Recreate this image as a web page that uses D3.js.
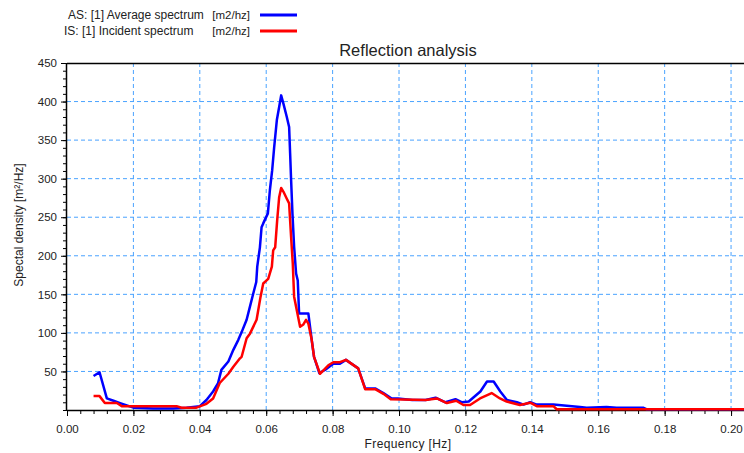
<!DOCTYPE html>
<html>
<head>
<meta charset="utf-8">
<script src="https://cdn.jsdelivr.net/npm/d3@7"></script>
<style>
  body { margin: 0; background: #fff; }
  svg { font-family: "Liberation Sans", Arial, sans-serif; }
</style>
</head>
<body>
<div id="chart"></div>
<script>
// AS: average spectrum
var asFreq = [0.0080, 0.0098, 0.0120, 0.0140, 0.0160, 0.0180, 0.0200, 0.0260, 0.0320, 0.0360, 0.0400,
  0.0420, 0.0440, 0.0455, 0.0465, 0.0486, 0.0501, 0.0516, 0.0526, 0.0541, 0.0551, 0.0561, 0.0570,
  0.0573, 0.0581, 0.0586, 0.0591, 0.0605, 0.0611, 0.0618, 0.0624, 0.0632, 0.0639, 0.0645, 0.0652,
  0.0662, 0.0669, 0.0672, 0.0675, 0.0679, 0.0684, 0.0690, 0.0695, 0.0699, 0.0727, 0.0737, 0.0744,
  0.0760, 0.0777, 0.0802, 0.0822, 0.0840, 0.0877, 0.0898, 0.0928, 0.0953, 0.0978, 0.0997, 0.1040,
  0.1080, 0.1110, 0.1140, 0.1170, 0.1190, 0.1210, 0.1245, 0.1265, 0.1285, 0.1305, 0.1325, 0.1355,
  0.1375, 0.1395, 0.1415, 0.1465, 0.1545, 0.1565, 0.1625, 0.1655, 0.1735, 0.1745, 0.2040];
var asValues = [44, 49, 15, 12, 9, 6, 3, 2, 2, 3, 5,
  13, 24, 35, 52, 63, 78, 91, 101, 117, 134, 151, 166,
  186, 211, 237, 242, 255, 285, 311, 341, 376, 393, 408, 397,
  380, 367, 333, 298, 255, 212, 177, 168, 125, 125, 91, 69,
  48, 52, 60, 60, 65, 54, 28, 28, 22, 15, 15, 13,
  13, 16, 10, 14, 10, 11, 24, 37, 37, 24, 13, 10,
  7, 10, 7, 7, 4, 3, 4, 3, 3, 1, 1];

// IS: incident spectrum
var isFreq = [0.0080, 0.0098, 0.0114, 0.0150, 0.0165, 0.0330, 0.0345, 0.0390, 0.0420, 0.0440, 0.0460,
  0.0486, 0.0501, 0.0521, 0.0526, 0.0541, 0.0551, 0.0571, 0.0583, 0.0591, 0.0606, 0.0617, 0.0621,
  0.0627, 0.0633, 0.0639, 0.0645, 0.0652, 0.0662, 0.0669, 0.0672, 0.0675, 0.0680, 0.0684, 0.0702,
  0.0712, 0.0720, 0.0727, 0.0737, 0.0744, 0.0762, 0.0787, 0.0802, 0.0822, 0.0840, 0.0877, 0.0898,
  0.0928, 0.0953, 0.0975, 0.1080, 0.1114, 0.1144, 0.1172, 0.1194, 0.1214, 0.1244, 0.1279, 0.1304,
  0.1324, 0.1364, 0.1395, 0.1415, 0.1465, 0.1475, 0.2040];
var isValues = [18, 18, 9, 9, 5, 5, 3, 3, 8, 15, 35,
  47, 56, 67, 69, 93, 99, 117, 147, 164, 170, 186, 207,
  211, 246, 276, 288, 283, 274, 268, 246, 224, 190, 147, 108,
  111, 117, 112, 91, 69, 47, 58, 62, 62, 65, 54, 27,
  27, 21, 14, 13, 15, 9, 12, 6.5, 6.5, 15, 22, 15,
  11, 6.5, 9.5, 5, 5, 1, 1];

var xTicks = [0, 0.02, 0.04, 0.06, 0.08, 0.10, 0.12, 0.14, 0.16, 0.18, 0.20];
var yTicks = [50, 100, 150, 200, 250, 300, 350, 400, 450];

var legendLabels = ['AS: [1] Average spectrum', 'IS: [1] Incident spectrum'];
var legendUnits = ['[m2/hz]', '[m2/hz]'];
var colors = ['#0000ff', '#ff0000'];

var W = 744, H = 453;
var margin = {top: 63, right: 0, bottom: 43, left: 67};
var width = W - margin.left - margin.right,
    height = H - margin.top - margin.bottom;

var svg = d3.select('#chart').append('svg')
  .attr('width', W)
  .attr('height', H);

var g = svg.append('g')
  .attr('transform', 'translate(' + margin.left + ',' + margin.top + ')');

var x = d3.scaleLinear().domain([0, 0.2039]).range([0, width]);
var y = d3.scaleLinear().domain([0, 450]).range([height, 0]);

// grid
g.append('g').selectAll('line').data(xTicks.slice(1))
  .enter().append('line')
  .attr('x1', function(d) { return x(d); })
  .attr('x2', function(d) { return x(d); })
  .attr('y1', 0).attr('y2', height)
  .attr('stroke', '#4aa3ff').attr('stroke-width', 1)
  .attr('stroke-dasharray', '4,3');

g.append('g').selectAll('line').data(yTicks.slice(0, -1))
  .enter().append('line')
  .attr('x1', 0).attr('x2', width)
  .attr('y1', function(d) { return y(d); })
  .attr('y2', function(d) { return y(d); })
  .attr('stroke', '#4aa3ff').attr('stroke-width', 1)
  .attr('stroke-dasharray', '4,3');

// top frame
g.append('line')
  .attr('x1', 0).attr('x2', width).attr('y1', 0.5).attr('y2', 0.5)
  .attr('stroke', '#000').attr('stroke-width', 1.5);

// minor ticks
var xMinor = d3.range(0, 0.2039, 0.004);
var yMinor = d3.range(0, 451, 10);

var xAxisMinor = d3.axisBottom(x).tickValues(xMinor).tickSize(4).tickFormat('');
g.append('g').attr('transform', 'translate(0,' + height + ')').call(xAxisMinor)
  .call(function(s) { s.select('.domain').remove(); });

var yAxisMinor = d3.axisLeft(y).tickValues(yMinor).tickSize(4).tickFormat('');
g.append('g').call(yAxisMinor)
  .call(function(s) { s.select('.domain').remove(); });

// major axes
var xAxis = d3.axisBottom(x).tickValues(xTicks).tickSize(6).tickPadding(9)
  .tickFormat(d3.format('.2f'));
var xg = g.append('g').attr('transform', 'translate(0,' + height + ')').call(xAxis);
xg.select('.domain').attr('d', 'M0,0.5H' + width).attr('stroke-width', 1.5);

var yAxis = d3.axisLeft(y).tickValues(yTicks).tickSize(6).tickPadding(4);
var yg = g.append('g').call(yAxis);
yg.select('.domain').attr('d', 'M-0.5,0V' + height).attr('stroke-width', 1.5);

svg.selectAll('.tick text')
  .attr('font-size', 11.5)
  .attr('fill', '#222')
  .style('font-family', '"Liberation Sans", Arial, sans-serif');

// series
var line = d3.line()
  .x(function(d) { return x(d[0]); })
  .y(function(d) { return y(d[1]); });

var series = [d3.zip(asFreq, asValues), d3.zip(isFreq, isValues)];

g.selectAll('.series').data(series)
  .enter().append('path')
  .attr('class', 'series')
  .attr('d', line)
  .attr('fill', 'none')
  .attr('stroke', function(d, i) { return colors[i]; })
  .attr('stroke-width', 2.5)
  .attr('stroke-linejoin', 'round');

// titles
svg.append('text')
  .attr('x', 408).attr('y', 56)
  .attr('text-anchor', 'middle')
  .attr('font-size', 16.5)
  .attr('fill', '#222')
  .text('Reflection analysis');

svg.append('text')
  .attr('x', 408).attr('y', 448)
  .attr('text-anchor', 'middle')
  .attr('font-size', 12)
  .attr('letter-spacing', 0.4)
  .attr('fill', '#222')
  .text('Frequency [Hz]');

svg.append('text')
  .attr('transform', 'translate(23,225) rotate(-90)')
  .attr('text-anchor', 'middle')
  .attr('font-size', 12)
  .attr('fill', '#222')
  .text('Spectal density [m\u00b2/Hz]');

// legend
var legend = svg.append('g').selectAll('g').data(legendLabels)
  .enter().append('g')
  .attr('transform', function(d, i) { return 'translate(0,' + (15 + i * 16) + ')'; });

legend.append('text')
  .attr('x', function(d, i) { return i === 0 ? 68 : 64; })
  .attr('y', 4)
  .attr('font-size', 12)
  .attr('fill', '#222')
  .text(function(d) { return d; });

legend.append('text')
  .attr('x', 250).attr('y', 4)
  .attr('text-anchor', 'end')
  .attr('font-size', 11.5)
  .attr('fill', '#222')
  .text(function(d, i) { return legendUnits[i]; });

legend.append('line')
  .attr('x1', 260).attr('x2', 297)
  .attr('y1', 0).attr('y2', 0)
  .attr('stroke', function(d, i) { return colors[i]; })
  .attr('stroke-width', 3);
</script>
</body>
</html>
